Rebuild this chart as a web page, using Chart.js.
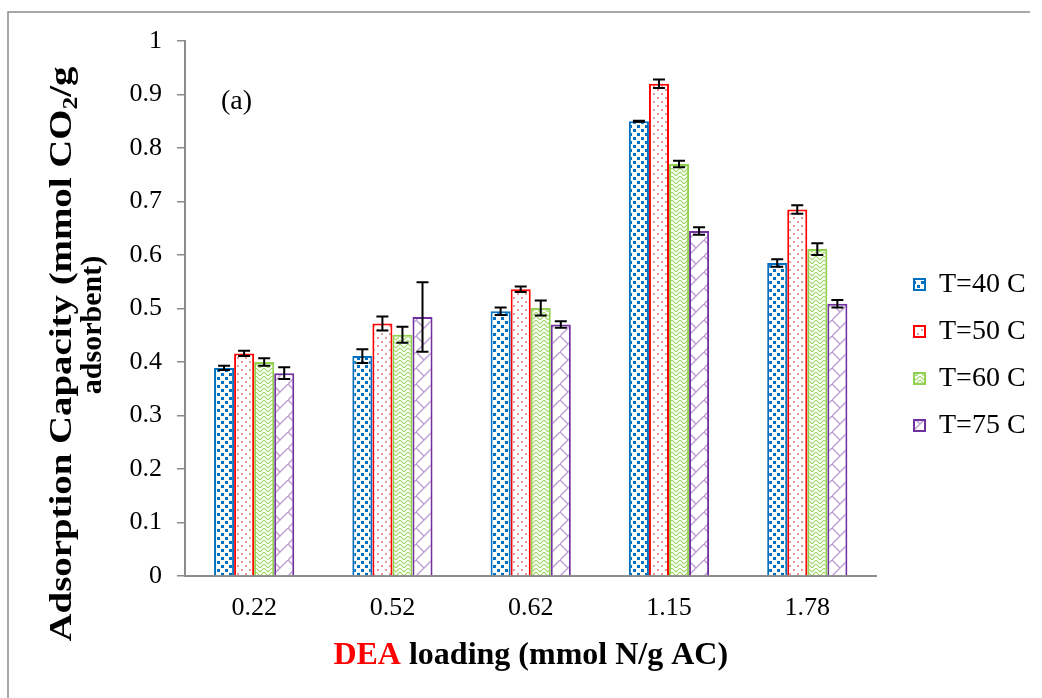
<!DOCTYPE html>
<html>
<head>
<meta charset="utf-8">
<script src="https://cdn.jsdelivr.net/npm/chart.js@4.4.1/dist/chart.umd.min.js"></script>
<style>
html, body { margin: 0; padding: 0; background: #fff; }
</style>
</head>
<body>
<canvas id="chart" width="1042" height="698"></canvas>
<script>
// DEA loading (mmol N/g AC)
const categories = ['0.22', '0.52', '0.62', '1.15', '1.78'];

// adsorption capacity, mmol CO2/g adsorbent
const t40 = [0.389, 0.411, 0.495, 0.850, 0.585];
const t50 = [0.416, 0.472, 0.536, 0.920, 0.685];
const t60 = [0.400, 0.451, 0.501, 0.770, 0.611];
const t75 = [0.379, 0.484, 0.470, 0.645, 0.509];

// error bar half widths
const t40Err = [0.004, 0.013, 0.007, 0.001, 0.007];
const t50Err = [0.005, 0.013, 0.005, 0.008, 0.008];
const t60Err = [0.007, 0.015, 0.014, 0.006, 0.011];
const t75Err = [0.011, 0.065, 0.006, 0.007, 0.007];

const seriesLabels = ['T=40 C', 'T=50 C', 'T=60 C', 'T=75 C'];

const serif = 'Liberation Serif, Times New Roman, serif';
const canvas = document.getElementById('chart');
const ctx = canvas.getContext('2d');

function makePattern(kind) {
    const tile = document.createElement('canvas');
    const size = kind === 'trellis' ? 16 : 8;
    tile.width = size;
    tile.height = size;
    const t = tile.getContext('2d');
    t.fillStyle = '#fff';
    t.fillRect(0, 0, size, size);
    if (kind === 'squares') {
        t.fillStyle = '#0070C0';
        t.fillRect(1, 1, 3, 3);
        t.fillRect(5, 5, 3, 3);
    } else if (kind === 'dots') {
        t.fillStyle = 'rgba(215, 90, 90, 0.75)';
        t.beginPath();
        t.arc(2, 2, 1.1, 0, Math.PI * 2);
        t.arc(6, 6, 1.1, 0, Math.PI * 2);
        t.fill();
    } else if (kind === 'weave') {
        t.strokeStyle = 'rgba(146, 208, 80, 0.85)';
        t.lineWidth = 1.2;
        t.beginPath();
        t.moveTo(0, 0); t.lineTo(4, 4); t.lineTo(8, 0);
        t.moveTo(0, 4); t.lineTo(4, 8); t.lineTo(8, 4);
        t.stroke();
    } else if (kind === 'trellis') {
        t.strokeStyle = 'rgba(112, 48, 160, 0.45)';
        t.lineWidth = 1.5;
        t.beginPath();
        t.moveTo(0, 16); t.lineTo(16, 0);
        t.moveTo(0, 0); t.lineTo(8, 8);
        t.stroke();
    }
    return ctx.createPattern(tile, 'repeat');
}

const errorBars = {
    id: 'errorBars',
    afterDatasetsDraw(chart) {
        const c = chart.ctx;
        const y = chart.scales.y;
        c.save();
        c.strokeStyle = '#000';
        c.lineWidth = 2;
        chart.data.datasets.forEach((ds, i) => {
            chart.getDatasetMeta(i).data.forEach((bar, j) => {
                const top = y.getPixelForValue(ds.data[j] + ds.errors[j]);
                const bot = y.getPixelForValue(ds.data[j] - ds.errors[j]);
                c.beginPath();
                c.moveTo(bar.x, top); c.lineTo(bar.x, bot);
                c.moveTo(bar.x - 6, top); c.lineTo(bar.x + 6, top);
                c.moveTo(bar.x - 6, bot); c.lineTo(bar.x + 6, bot);
                c.stroke();
            });
        });
        c.restore();
    }
};

const decorations = {
    id: 'decorations',
    beforeDraw(chart) {
        const c = chart.ctx;
        c.save();
        c.fillStyle = '#fff';
        c.fillRect(0, 0, chart.width, chart.height);
        c.restore();
    },
    afterDraw(chart) {
        const c = chart.ctx;
        const area = chart.chartArea;
        c.save();
        // outer frame
        c.strokeStyle = '#8c8c8c';
        c.lineWidth = 1.5;
        c.beginPath();
        c.moveTo(8, 698); c.lineTo(8, 12); c.lineTo(1030, 12);
        c.stroke();

        c.fillStyle = '#000';
        c.font = '28px ' + serif;
        c.textBaseline = 'middle';
        c.fillText('(a)', 221, 102);

        // y axis title; the original is drawn stretched along the axis
        const big = 'bold 32px ' + serif;
        const subFont = 'bold 21px ' + serif;
        const partA = 'Adsorption Capacity (mmol CO';
        const partB = '/g';
        c.font = big;
        const wA = c.measureText(partA).width;
        const wB = c.measureText(partB).width;
        c.font = subFont;
        const wS = c.measureText('2').width;
        const total = wA + wS + wB;
        const stretch = 575 / total;
        c.translate(63, 354);
        c.rotate(-Math.PI / 2);
        c.scale(stretch, 1);
        c.textAlign = 'left';
        c.font = big;
        c.fillText(partA, -total / 2, 0);
        c.font = subFont;
        c.fillText('2', -total / 2 + wA, 9);
        c.font = big;
        c.fillText(partB, -total / 2 + wA + wS, 0);
        c.setTransform(1, 0, 0, 1, 0, 0);
        c.translate(93, 325);
        c.rotate(-Math.PI / 2);
        c.textAlign = 'center';
        c.font = 'bold 30px ' + serif;
        c.fillText('adsorbent)', 0, 0);
        c.setTransform(1, 0, 0, 1, 0, 0);

        // x axis title, DEA in red
        c.font = 'bold 32px ' + serif;
        const redPart = 'DEA';
        const rest = ' loading (mmol N/g AC)';
        const wRed = c.measureText(redPart).width;
        const wRest = c.measureText(rest).width;
        const startX = (area.left + area.right) / 2 - (wRed + wRest) / 2;
        c.textAlign = 'left';
        c.fillStyle = '#ff0000';
        c.fillText(redPart, startX, 656);
        c.fillStyle = '#000';
        c.fillText(rest, startX + wRed, 656);
        c.restore();
    }
};

const shiftLegend = {
    id: 'shiftLegend',
    afterLayout(chart) {
        const lg = chart.legend;
        const dx = 895 - lg.left;
        lg.left += dx;
        lg.right += dx;
    }
};

const styles = [
    { pattern: 'squares', border: '#0070C0' },
    { pattern: 'dots', border: '#FF0000' },
    { pattern: 'weave', border: '#92D050' },
    { pattern: 'trellis', border: '#7030A0' }
];
const values = [t40, t50, t60, t75];
const errs = [t40Err, t50Err, t60Err, t75Err];

new Chart(ctx, {
    type: 'bar',
    data: {
        labels: categories,
        datasets: values.map((v, i) => ({
            label: seriesLabels[i],
            data: v,
            errors: errs[i],
            backgroundColor: makePattern(styles[i].pattern),
            borderColor: styles[i].border,
            borderWidth: 2,
            borderSkipped: 'start',
            barPercentage: 1,
            categoryPercentage: 0.58
        }))
    },
    options: {
        responsive: false,
        animation: false,
        layout: {
            padding: { left: 0, top: 41, right: 25, bottom: 29 }
        },
        plugins: {
            legend: {
                position: 'right',
                labels: {
                    boxWidth: 11,
                    boxHeight: 11,
                    padding: 19,
                    color: '#000',
                    font: { family: serif, size: 28 }
                }
            },
            tooltip: { enabled: false }
        },
        scales: {
            x: {
                grid: { drawOnChartArea: false, drawTicks: false },
                border: { display: true, color: '#8c8c8c', width: 2 },
                ticks: {
                    color: '#000',
                    padding: 17,
                    font: { family: serif, size: 26 }
                },
                afterFit(scale) { scale.height = 93; }
            },
            y: {
                min: 0,
                max: 1,
                grid: { drawOnChartArea: false, drawTicks: true, tickLength: 8, color: '#8c8c8c', lineWidth: 1.5 },
                border: { display: true, color: '#8c8c8c', width: 2 },
                ticks: {
                    stepSize: 0.1,
                    color: '#000',
                    padding: 15,
                    font: { family: serif, size: 26 },
                    callback: v => String(Number(v.toFixed(1)))
                },
                afterFit(scale) { scale.width = 185; }
            }
        }
    },
    plugins: [errorBars, decorations, shiftLegend]
});
</script>
</body>
</html>
